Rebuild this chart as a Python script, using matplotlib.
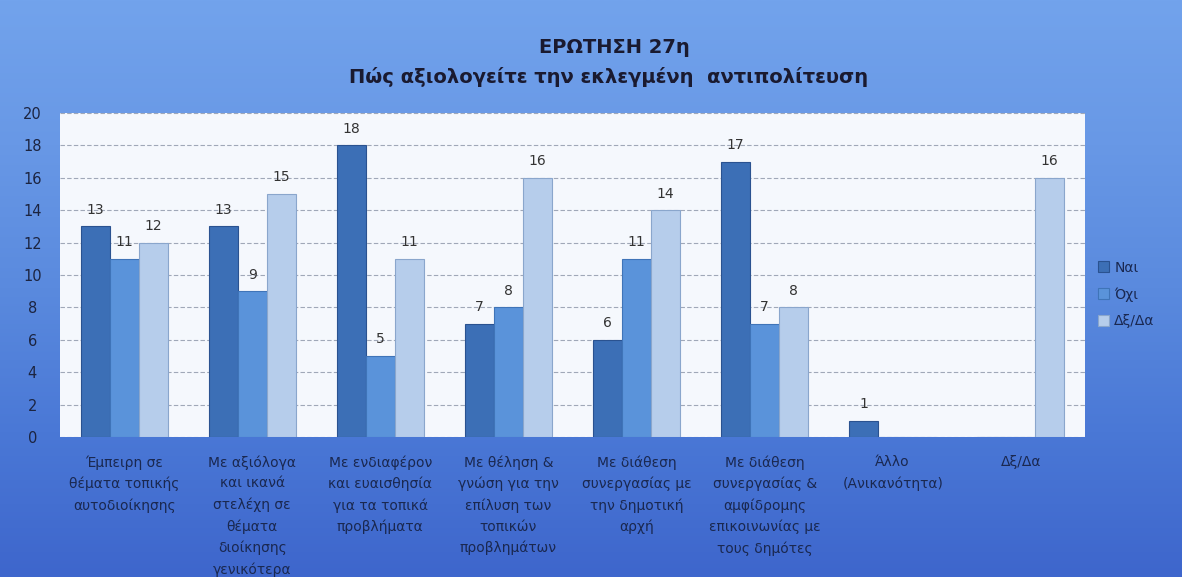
import numpy as np
import matplotlib
matplotlib.use("Agg")
import matplotlib.pyplot as plt
from matplotlib.colors import LinearSegmentedColormap

plt.rcParams['font.family'] = ['DejaVu Sans']

categories = [
    "Έμπειρη σε\nθέματα τοπικής\nαυτοδιοίκησης",
    "Με αξιόλογα\nκαι ικανά\nστελέχη σε\nθέματα\nδιοίκησης\nγενικότερα",
    "Με ενδιαφέρον\nκαι ευαισθησία\nγια τα τοπικά\nπροβλήματα",
    "Με θέληση &\nγνώση για την\nεπίλυση των\nτοπικών\nπροβλημάτων",
    "Με διάθεση\nσυνεργασίας με\nτην δημοτική\nαρχή",
    "Με διάθεση\nσυνεργασίας &\nαμφίδρομης\nεπικοινωνίας με\nτους δημότες",
    "Άλλο\n(Ανικανότητα)",
    "Δξ/Δα",
]
series_names = ["Ναι", "Όχι", "Δξ/Δα"]
nai = [13, 13, 18, 7, 6, 17, 1, 0]
oxi = [11, 9, 5, 8, 11, 7, 0, 0]
dxda = [12, 15, 11, 16, 14, 8, 0, 16]

colors = ["#3c6fb6", "#5a93da", "#b6cdeb"]
edges = ["#2a5290", "#3f74b8", "#8aa6cc"]

fig = plt.figure(figsize=(11.82, 5.77), dpi=100)

# background gradient
bg = fig.add_axes([0, 0, 1, 1], zorder=-10)
cmap = LinearSegmentedColormap.from_list(
    "bg", ["#72a3ec", "#6898e6", "#5a8ade", "#4a78d6", "#3e66cc"])
grad = np.linspace(0, 1, 256).reshape(-1, 1)
bg.imshow(grad, aspect="auto", cmap=cmap, extent=[0, 1, 0, 1], origin="upper")
bg.axis("off")

ax = fig.add_axes([0.0508, 0.2426, 0.867, 0.5614])
ax.set_facecolor("#f5f8fd")

x = np.arange(len(categories))
w = 0.226
for i, (vals, c, ec, name) in enumerate(zip([nai, oxi, dxda], colors, edges, series_names)):
    pos = x + (i - 1) * w
    bars = ax.bar(pos, vals, w, color=c, edgecolor=ec, linewidth=0.8, label=name, zorder=3)
    for b, v in zip(bars, vals):
        if v > 0:
            ax.text(b.get_x() + b.get_width() / 2, v + 0.6, str(v), ha="center", va="bottom",
                    fontsize=10, color="#333333", zorder=4)

ax.set_xlim(-0.5, len(categories) - 0.5)
ax.set_ylim(0, 20)
ax.set_yticks(range(0, 21, 2))
ax.tick_params(axis="y", length=0, pad=20, labelsize=10.5, labelcolor="#1c2440")
ax.set_yticklabels([str(t) for t in range(0, 21, 2)], ha="center")
ax.set_xticks(x)
ax.set_xticklabels(categories, fontsize=10, color="#1a2850", linespacing=1.62, va="top")
ax.tick_params(axis="x", length=0, pad=13)
ax.grid(axis="y", color="#a0a8b8", linestyle=(0, (4, 2)), linewidth=0.8, zorder=0)
for s in ax.spines.values():
    s.set_visible(False)

fig.text(0.52, 0.918, "ΕΡΩΤΗΣΗ 27η", ha="center", va="center", fontsize=14,
         fontweight="bold", color="#1a1a30")
fig.text(0.515, 0.866, "Πώς αξιολογείτε την εκλεγμένη  αντιπολίτευση", ha="center",
         va="center", fontsize=14, fontweight="bold", color="#1a1a30")

fig.legend(loc="center left", bbox_to_anchor=(0.918, 0.49), frameon=False,
           fontsize=10, labelcolor="#1a2850", handlelength=0.8, handleheight=0.8,
           labelspacing=0.9, handletextpad=0.4)

fig.savefig("out.png", dpi=100)
